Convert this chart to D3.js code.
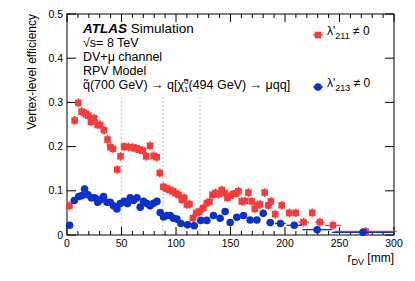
<!DOCTYPE html>
<html>
<head>
<meta charset="utf-8">
<script src="https://cdn.jsdelivr.net/npm/d3@7"></script>
<style>
  body { margin: 0; background: #fff; }
  text { font-family: "Liberation Sans", Arial, sans-serif; fill: #000; }
</style>
</head>
<body>
<div id="chart"></div>
<script>
// lambda'_211 (red squares): bin centre, efficiency, half bin width
var redX = [2.2, 7, 10.4, 13.4, 15.6, 17.7, 19.5, 22, 25, 28, 30.5, 33.9, 37.2, 39.7, 42.2, 46.1, 49.1,
  52.4, 56.4, 60.3, 63.3, 66.4, 69.6, 72.7, 76.2, 79.4, 82.4, 85.1, 88.4, 91.4, 94.4, 97.2, 99.8,
  102.3, 105.4, 107.5, 110, 112.4, 115.5, 118.5, 121.5, 125, 128.3, 130.7, 133.5, 136.3, 139, 142,
  144.5, 147.2, 150, 152.7, 155.2, 157.3, 160.4, 163.4, 166.5, 169.6, 172.3, 174.7, 177.2, 181.3,
  184.8, 187, 191, 197, 204, 210, 217, 225, 232, 244, 274];
var redY = [0.066, 0.259, 0.299, 0.279, 0.276, 0.274, 0.270, 0.256, 0.264, 0.249, 0.249, 0.237, 0.216, 0.199, 0.195, 0.148, 0.178,
  0.200, 0.199, 0.198, 0.196, 0.193, 0.191, 0.178, 0.202, 0.179, 0.176, 0.140, 0.109, 0.105, 0.102, 0.099, 0.094,
  0.091, 0.080, 0.084, 0.069, 0.070, 0.038, 0.050, 0.053, 0.061, 0.072, 0.075, 0.091, 0.095, 0.092, 0.102,
  0.095, 0.084, 0.089, 0.093, 0.094, 0.099, 0.076, 0.077, 0.096, 0.076, 0.059, 0.068, 0.069, 0.096,
  0.067, 0.076, 0.047, 0.067, 0.050, 0.050, 0.029, 0.050, 0.029, 0.022, 0.008];
var redXErr = [1.5, 1.5, 1.5, 1.5, 1.5, 1.5, 1.5, 1.5, 1.5, 1.5, 1.5, 1.5, 1.5, 1.5, 1.5, 1.5, 1.5,
  1.5, 1.5, 1.5, 1.5, 1.5, 1.5, 1.5, 1.5, 1.5, 1.5, 1.5, 1.5, 1.5, 1.5, 1.5, 1.5,
  1.5, 1.5, 1.5, 1.5, 1.5, 1.5, 1.5, 1.5, 1.5, 1.5, 1.5, 1.5, 1.5, 1.5, 1.5,
  1.5, 1.5, 1.5, 1.5, 1.5, 1.5, 1.5, 1.5, 1.5, 1.5, 1.5, 1.5, 1.5, 1.5,
  1.5, 1.5, 2, 2.5, 3, 3, 5, 3, 4.5, 7.5, 28.5];
var redYErr = 0.01;

// lambda'_213 (blue circles)
var blueX = [2.4, 6.7, 10.7, 13.7, 16.1, 19.2, 22.3, 25.3, 28.1, 30.5, 33.5, 36.7, 39.7, 42.7, 45.8, 48.9,
  52.5, 55.5, 58, 61, 64.2, 67.2, 70.2, 73.3, 76.3, 79.4, 82.5, 85.5, 88.6, 91.7, 94.7, 97.7, 100.8,
  104.5, 110.6, 116.7, 122.8, 128.3, 134.4, 140.5, 145.1, 149.7, 155.8, 161.9, 168, 174.2, 180,
  186.5, 195.8, 208.5, 229.5, 271.5];
var blueY = [0.022, 0.078, 0.087, 0.089, 0.104, 0.091, 0.084, 0.084, 0.074, 0.080, 0.087, 0.074, 0.074, 0.066, 0.059, 0.071,
  0.076, 0.071, 0.084, 0.078, 0.084, 0.063, 0.076, 0.071, 0.066, 0.072, 0.076, 0.051, 0.041, 0.044, 0.044, 0.038, 0.036,
  0.026, 0.023, 0.021, 0.033, 0.033, 0.044, 0.038, 0.053, 0.028, 0.040, 0.044, 0.034, 0.034, 0.049,
  0.028, 0.026, 0.022, 0.012, 0.006];
var blueXErr = [1.5, 1.5, 1.5, 1.5, 1.5, 1.5, 1.5, 1.5, 1.5, 1.5, 1.5, 1.5, 1.5, 1.5, 1.5, 1.5,
  1.5, 1.5, 1.5, 1.5, 1.5, 1.5, 1.5, 1.5, 1.5, 1.5, 1.5, 1.5, 1.5, 1.5, 1.5, 1.5, 1.5,
  2, 3, 3, 3, 3, 3, 3, 2, 2.5, 3, 3, 3, 3, 3,
  3.5, 5, 7, 13.5, 28.5];

// region boundaries (dashed lines)
var boundaries = [50, 88, 122];

var xTicks = [0, 50, 100, 150, 200, 250, 300];
var yTicks = [0, 0.1, 0.2, 0.3, 0.4, 0.5];

var svgWidth = 415;
var svgHeight = 281;
var margin = { top: 14, right: 21, bottom: 46, left: 67 };
var width = svgWidth - margin.left - margin.right;
var height = svgHeight - margin.top - margin.bottom;

var red = "#f53b3b";
var blue = "#0a32c8";

var svg = d3.select("#chart").append("svg")
  .attr("width", svgWidth)
  .attr("height", svgHeight);

var g = svg.append("g")
  .attr("transform", `translate(${margin.left}, ${margin.top})`);

var x = d3.scaleLinear().domain([0, 300]).range([0, width]);
var y = d3.scaleLinear().domain([0, 0.5]).range([height, 0]);

// dashed boundaries
g.selectAll(".bound")
  .data(boundaries)
  .enter().append("line")
  .attr("x1", d => x(d)).attr("x2", d => x(d))
  .attr("y1", y(0)).attr("y2", y(0.31))
  .attr("stroke", "#cfcfcf")
  .attr("stroke-width", 1.4)
  .attr("stroke-dasharray", "2,2");

// frame
g.append("rect")
  .attr("width", width).attr("height", height)
  .attr("fill", "none").attr("stroke", "#000").attr("stroke-width", 1);

// x axis ticks: major + minor, bottom and top
var xMinor = d3.range(0, 301, 10);
g.selectAll(".xminor")
  .data(xMinor)
  .enter().append("path")
  .attr("d", d => {
    var len = d % 50 === 0 ? 8 : 4;
    return `M${x(d)},${height}v${-len}M${x(d)},0v${len}`;
  })
  .attr("stroke", "#000").attr("stroke-width", 1);

g.selectAll(".xlab")
  .data(xTicks)
  .enter().append("text")
  .attr("x", d => x(d))
  .attr("y", height + 12)
  .attr("text-anchor", "middle")
  .attr("font-size", 10.5)
  .text(d => d);

// y axis ticks, left and right
g.selectAll(".ytick")
  .data(yTicks)
  .enter().append("path")
  .attr("d", d => `M0,${y(d)}h9M${width},${y(d)}h-9`)
  .attr("stroke", "#000").attr("stroke-width", 1);

g.selectAll(".ylab")
  .data(yTicks)
  .enter().append("text")
  .attr("x", -4)
  .attr("y", d => y(d) + 3.5)
  .attr("text-anchor", "end")
  .attr("font-size", 10.5)
  .text(d => d === 0 ? "0" : d3.format(".1f")(d));

// axis titles
g.append("text")
  .attr("transform", `translate(-31, 0) rotate(-90)`)
  .attr("text-anchor", "end")
  .attr("font-size", 12)
  .text("Vertex-level efficiency");

var xt = g.append("text")
  .attr("x", width)
  .attr("y", height + 27)
  .attr("text-anchor", "end")
  .attr("font-size", 12);
xt.append("tspan").text("r");
xt.append("tspan").attr("dy", 3).attr("font-size", 9).text("DV");
xt.append("tspan").attr("dy", -3).text(" [mm]");

var redData = redX.map((d, i) => ({ x: d, y: redY[i], xe: redXErr[i] }));
var blueData = blueX.map((d, i) => ({ x: d, y: blueY[i], xe: blueXErr[i] }));

// red series
g.selectAll(".rerr")
  .data(redData)
  .enter().append("path")
  .attr("d", d => `M${x(d.x - d.xe)},${y(d.y)}H${x(d.x + d.xe)}M${x(d.x)},${y(d.y - redYErr)}V${y(d.y + redYErr)}`)
  .attr("stroke", red).attr("stroke-width", 1.3);

g.selectAll(".rmark")
  .data(redData)
  .enter().append("rect")
  .attr("x", d => x(d.x) - 3.3).attr("y", d => y(d.y) - 3.3)
  .attr("width", 6.6).attr("height", 6.6)
  .attr("fill", red);

// blue series
g.selectAll(".berr")
  .data(blueData)
  .enter().append("path")
  .attr("d", d => `M${x(d.x - d.xe)},${y(d.y)}H${x(d.x + d.xe)}`)
  .attr("stroke", blue).attr("stroke-width", 1.3);

g.selectAll(".bmark")
  .data(blueData)
  .enter().append("circle")
  .attr("cx", d => x(d.x)).attr("cy", d => y(d.y))
  .attr("r", 3.8)
  .attr("fill", blue);

// labels
var lab = svg.append("g").attr("transform", "translate(83, 0)");
var t1 = lab.append("text").attr("y", 33).attr("font-size", 13.5);
t1.append("tspan").attr("font-weight", "bold").attr("font-style", "italic").text("ATLAS");
t1.append("tspan").text(" Simulation");
lab.append("text").attr("y", 47).attr("font-size", 12.5).text("\u221As= 8 TeV");
lab.append("text").attr("y", 61).attr("font-size", 12.5).text("DV+\u03bc channel");
lab.append("text").attr("y", 75).attr("font-size", 12.5).text("RPV Model");
var t5 = lab.append("text").attr("y", 89).attr("font-size", 12.5);
t5.append("tspan").text("q\u0303(700 GeV) \u2192 q[\u03c7\u0303");
t5.append("tspan").attr("dy", -5).attr("font-size", 8).text("0");
t5.append("tspan").attr("dy", 8).attr("dx", -4.5).attr("font-size", 8).text("1");
t5.append("tspan").attr("dy", -3).text("(494 GeV) \u2192 \u03bcqq]");

// legend
var legend = [
  { y: 35, color: red, shape: "rect", sub: "211" },
  { y: 87, color: blue, shape: "circle", sub: "213" }
];
legend.forEach(function(l) {
  var lg = svg.append("g").attr("transform", `translate(318, ${l.y})`);
  lg.append("line").attr("x1", -5).attr("x2", 5).attr("stroke", l.color).attr("stroke-width", 1.3);
  if (l.shape === "rect") {
    lg.append("rect").attr("x", -3.3).attr("y", -3.3).attr("width", 6.6).attr("height", 6.6).attr("fill", l.color);
  } else {
    lg.append("circle").attr("r", 3.8).attr("fill", l.color);
  }
  var lt = lg.append("text").attr("x", 9).attr("y", 0).attr("font-size", 12);
  lt.append("tspan").text("\u03bb'");
  lt.append("tspan").attr("dy", 4).attr("font-size", 9).text(l.sub);
  lt.append("tspan").attr("dy", -4).text(" \u2260 0");
});
</script>
</body>
</html>
